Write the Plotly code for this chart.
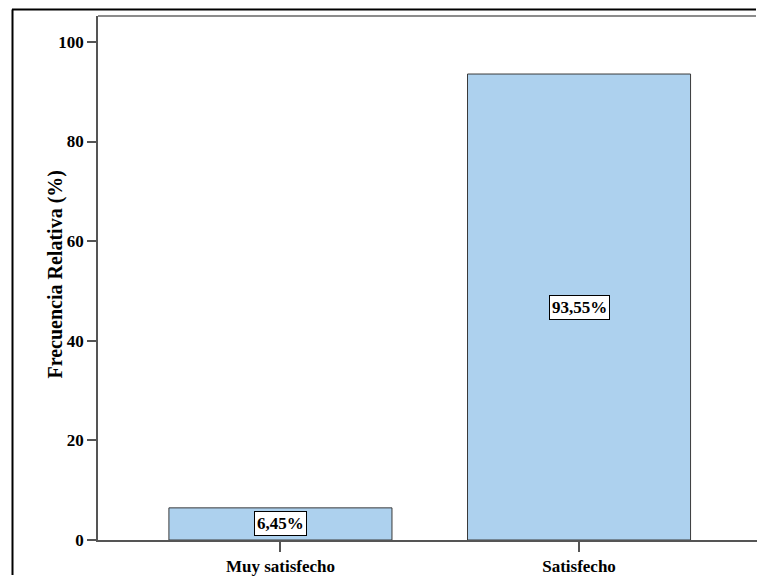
import plotly.graph_objects as go

categories = ["Muy satisfecho", "Satisfecho"]
values = [6.45, 93.55]
labels = ["6,45%", "93,55%"]
y_ticks = [0, 20, 40, 60, 80, 100]

W, H = 757, 577
L, T, B, R = 98, 16, 37, 0
pw = W - L - R
ph = H - T - B
FONT = "Liberation Serif"

fig = go.Figure()
fig.add_trace(go.Bar(
    x=[0, 1], y=values, width=0.747,
    marker=dict(color="#ADD1EE", line=dict(color="#3a3a3a", width=1)),
    hoverinfo="skip",
))

for i, (v, lab) in enumerate(zip(values, labels)):
    fig.add_annotation(x=i, y=v / 2, text=lab, showarrow=False,
                       font=dict(family=FONT, size=17, color="black", weight="bold"),
                       bgcolor="white", bordercolor="black", borderwidth=1, borderpad=2)

fig.add_annotation(x=(41 - L) / pw, y=(540 - 275) / ph, xref="paper", yref="paper",
                   text="Frecuencia Relativa (%)", textangle=-90, showarrow=False,
                   font=dict(family=FONT, size=20, color="black", weight="bold"))

# outer frame (kept fully inside the figure)
fig.add_shape(type="line", xref="paper", yref="paper",
              x0=(12 - L) / pw, x1=(W - 1 - L) / pw, y0=1 + (T - 9.5) / ph, y1=1 + (T - 9.5) / ph,
              line=dict(color="black", width=2))
fig.add_shape(type="line", xref="paper", yref="paper",
              x0=(12.5 - L) / pw, x1=(12.5 - L) / pw, y0=1 + (T - 9.5) / ph, y1=(-B + 2) / ph,
              line=dict(color="black", width=2))
# plot top border
fig.add_shape(type="line", xref="paper", yref="paper",
              x0=0, x1=(W - 1 - L) / pw, y0=1, y1=1, line=dict(color="#666666", width=1.5))

fig.update_layout(
    width=W, height=H,
    margin=dict(l=L, t=T, b=B, r=R),
    paper_bgcolor="white", plot_bgcolor="white",
    showlegend=False,
    xaxis=dict(range=[-0.611, 1.596], tickvals=[0, 1], ticktext=categories,
               showline=True, linecolor="#555555", linewidth=1.5,
               ticks="outside", ticklen=10, tickcolor="#555555", tickwidth=1.5,
               showgrid=False, zeroline=False, fixedrange=True,
               tickfont=dict(family=FONT, size=17, color="black", weight="bold")),
    yaxis=dict(range=[0, 105.2], tickvals=y_ticks,
               showline=True, linecolor="#555555", linewidth=1.5,
               ticks="outside", ticklen=9, tickcolor="#555555", tickwidth=1.5,
               showgrid=False, zeroline=False, fixedrange=True,
               tickfont=dict(family=FONT, size=17, color="black", weight="bold")),
)

fig.write_html("out.html", config={"displayModeBar": False},
               post_script="document.documentElement.style.overflow='hidden';"
                           "document.body.style.margin='0';document.body.style.overflow='hidden';")
